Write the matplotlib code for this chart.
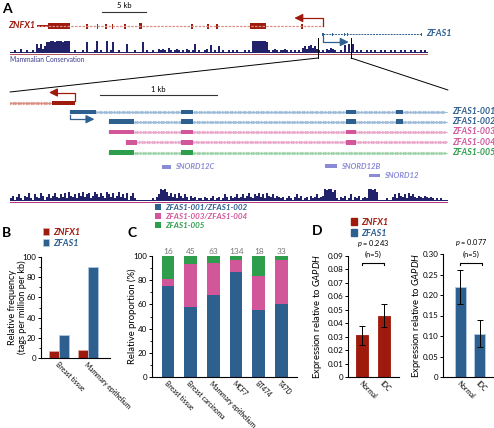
import numpy as np
import matplotlib
matplotlib.use('Agg')
import matplotlib.pyplot as plt
from matplotlib.patches import ConnectionPatch, Patch

plt.rcParams['font.family'] = ['Lato', 'DejaVu Sans']
plt.rcParams['mathtext.fontset'] = 'custom'
plt.rcParams['mathtext.it'] = 'Lato:italic'
plt.rcParams['mathtext.rm'] = 'Lato'

# colours
RED = '#9e1a0c'
RED_L = '#d98f86'
BLUE = '#2d5f8f'
BLUE_L = '#9dbad8'
PINK = '#d1579a'
PINK_L = '#eaa8cb'
GREEN = '#2e9e4c'
GREEN_L = '#9ed3a8'
SNO = '#8a8ad6'
CONS = '#22226a'

# ---- panel A data (kb) ----
znfx1_utr = [(3.07, 4.32)]
znfx1_big_exons = [(4.32, 6.82), (27.27, 29.09)]
znfx1_small_exons = [8.75, 9.89, 10.91, 11.7, 13.07, 14.77, 20.68, 22.5, 23.52, 33.18]
znfx1_span = (3.07, 35.57)
zfas1_span = (35.57, 46.82)
zfas1_small_exons = [35.57, 36.7, 38.0, 38.3, 46.8]
zoom_window = (35.0, 38.75)

# conservation, one digit per 2-px bin (upper: 0.227 kb, lower: 0.017 kb)
cons_upper = ("1121131121121" "747358" "89989998999" "11211121" "8" "1112" "9" "1211" "9"
              "12" "8" "112111" "7" "1112111" "8" "121121132" "3214" "212321213212"
              "7" "1211231" "6" "1215" "1211212121112121" "99999998"
              "21232122321212121" "45356453" "2121324" "32112161717"
              "1212112121211212112121121211212112121")
cons_lower = ("2413521436215326413524632" "53627435264735624753" "642753624735261462"
              "1111111121" "35989746" "35264253142312" "21321241231253142352"
              "35246325463526435243" "2312421352412314235234" "989978"
              "2132412513241232" "99897" "1111211" "3526435264532432432321212111")

znfx1_zoom_intron = (0.0, 0.359)
znfx1_zoom_exon = (0.359, 0.556)
transcript_names = ['ZFAS1-001', 'ZFAS1-002', 'ZFAS1-003', 'ZFAS1-004', 'ZFAS1-005']
transcript_starts = [0.513, 0.846, 0.846, 0.991, 0.846]
transcript_end = 3.735
t001 = [(0.513, 0.735), (1.462, 1.564), (2.872, 2.957), (3.299, 3.359)]
t002 = [(0.846, 1.06), (1.462, 1.564), (2.872, 2.957), (3.299, 3.359)]
t003 = [(0.846, 1.06), (1.462, 1.564), (2.872, 2.957)]
t004 = [(0.991, 1.085), (1.462, 1.564), (2.872, 2.957)]
t005 = [(0.846, 1.06), (1.462, 1.564)]
snord_names = ['SNORD12C', 'SNORD12B', 'SNORD12']
snord_starts = [1.299, 2.692, 3.068]
snord_ends = [1.376, 2.795, 3.162]

# ---- panel B ----
b_categories = ['Breast tissue', 'Mammary epithelium']
b_znfx1 = [7, 7.5]
b_zfas1 = [23, 90]

# ---- panel C ----
c_categories = ['Breast tissue', 'Breast carcinoma', 'Mammary epithelium', 'MCF7', 'BT474', 'T47D']
c_001_002 = [75, 57.5, 68, 86.5, 55.5, 60.5]
c_003_004 = [6, 36, 26, 10, 28, 36.5]
c_005 = [19, 6.5, 6, 3.5, 16.5, 3]
c_counts = [16, 45, 63, 134, 18, 33]

# ---- panel D ----
d_groups = ['Normal', 'IDC']
d_znfx1 = [0.031, 0.0455]
d_znfx1_err = [0.007, 0.0085]
d_zfas1 = [0.22, 0.106]
d_zfas1_err = [0.041, 0.034]
d_pvals = ['0.243', '0.077']

W, H = 494, 428
fig = plt.figure(figsize=(W / 100, H / 100), dpi=100)


def px_axes(l, t, r, b):
    return fig.add_axes([l / W, 1 - b / H, (r - l) / W, (b - t) / H])


def chevron_line(ax, x0, x1, y, color):
    ax.plot([x0, x1], [y, y], color=color, lw=0.6, zorder=1)
    xs = np.arange(x0 + 0.01, x1, 0.022)
    ax.plot(xs, np.full_like(xs, y), ls='none', marker='>', ms=2.2, mew=0.3,
            color=color, zorder=1)


def cons_track(ax, digits, px_per_kb, base, base_col):
    h = np.array([int(c) for c in digits]) * 12 / 9
    x = (np.arange(len(h)) * 2 + 1) / px_per_kb
    ax.plot([0, x[-1]], [base + 0.5, base + 0.5], color=base_col, lw=0.7)
    ax.bar(x, -h, width=1.1 / px_per_kb, bottom=base, color=CONS, lw=0)


def arrow_head(ax, x_tip, x_from, y, color):
    ax.annotate('', xy=(x_tip, y), xytext=(x_from, y),
                arrowprops=dict(arrowstyle='-|>,head_length=0.5,head_width=0.25', color=color, lw=0.9))


# ================= panel A, upper genome view =================
KB1 = 8.8   # px per kb
axA1 = px_axes(10, 0, W, 70)
axA1.set_xlim(0, (W - 10) / KB1)
axA1.set_ylim(70, 0)
axA1.axis('off')

# scale bar 5 kb
axA1.plot([92 / KB1, 92 / KB1 + 5], [12, 12], color='#333333', lw=0.8)
axA1.text(92 / KB1 + 2.5, 9.5, '5 kb', ha='center', va='bottom', fontsize=5.5)

axA1.plot(znfx1_span, [26, 26], color=RED_L, lw=0.9, ls=(0, (2, 1)))
axA1.broken_barh([(s, e - s) for s, e in znfx1_utr], (25, 2), facecolors=RED)
axA1.broken_barh([(s, e - s) for s, e in znfx1_big_exons], (23, 6), facecolors=RED)
axA1.broken_barh([(x - 0.06, 0.12) for x in znfx1_small_exons], (23.5, 5), facecolors=RED)
axA1.broken_barh([(14.67, 0.3)], (23, 6), facecolors=RED)
axA1.text(znfx1_span[0] - 0.2, 26, 'ZNFX1', color=RED, fontsize=6.5, fontweight='bold',
          style='italic', ha='right', va='center')
tss = znfx1_span[1]
axA1.plot([tss, tss, 32.6], [26, 18, 18], color=RED, lw=0.9)
arrow_head(axA1, 32.0, 33.2, 18, RED)

axA1.plot(zfas1_span, [34, 34], color=BLUE, lw=0.7, ls=(0, (2, 1)))
axA1.broken_barh([(x - 0.06, 0.12) for x in zfas1_small_exons], (32.5, 3), facecolors=BLUE)
axA1.text(zfas1_span[1] + 0.5, 34, 'ZFAS1', color=BLUE, fontsize=6.5, fontweight='bold',
          style='italic', ha='left', va='center')
axA1.plot([tss, tss, 38.2], [36, 42, 42], color=BLUE, lw=0.9)
arrow_head(axA1, 38.8, 37.8, 42, BLUE)

cons_track(axA1, cons_upper, KB1, 53, '#b0505a')
axA1.text(0, 60, 'Mammalian Conservation', color='#3a3a8a', fontsize=4.8, va='center', ha='left')

for xz in zoom_window:
    axA1.plot([xz, xz], [38, 58], color='black', lw=0.7)

# ================= panel A, zoomed view =================
KB2 = 117.0
axA2 = px_axes(10, 80, W, 210)
axA2.set_xlim(0, (W - 10) / KB2)
axA2.set_ylim(130, 0)
axA2.axis('off')

axA2.plot([90 / KB2, 90 / KB2 + 1], [15, 15], color='#333333', lw=0.8)
axA2.text(90 / KB2 + 0.5, 12.5, '1 kb', ha='center', va='bottom', fontsize=5.5)

chevron_line(axA2, znfx1_zoom_intron[0], znfx1_zoom_intron[1], 22.7, RED_L)
axA2.broken_barh([(znfx1_zoom_exon[0], znfx1_zoom_exon[1] - znfx1_zoom_exon[0])], (20.5, 4.4),
                 facecolors=RED)
axA2.plot([znfx1_zoom_exon[1]] * 2 + [0.36], [20.5, 12.5, 12.5], color=RED, lw=0.9)
arrow_head(axA2, 0.31, 0.40, 12.5, RED)

rows_y = [32, 41.7, 52, 62.3, 72.7]
exon_sets = [t001, t002, t003, t004, t005]
dark_cols = [BLUE, BLUE, PINK, PINK, GREEN]
light_cols = [BLUE_L, BLUE_L, PINK_L, PINK_L, GREEN_L]
for name, start, exons, y, dc, lc in zip(transcript_names, transcript_starts, exon_sets,
                                         rows_y, dark_cols, light_cols):
    chevron_line(axA2, start, transcript_end, y, lc)
    axA2.broken_barh([(s, e - s) for s, e in exons], (y - 2.3, 4.6), facecolors=dc, zorder=2)
    axA2.text(transcript_end + 0.04, y, name, color=dc, fontsize=6.3, fontweight='bold',
              style='italic', ha='left', va='center')
axA2.plot([t001[0][0]] * 2 + [0.70], [34.5, 39.2, 39.2], color=BLUE, lw=0.9)
arrow_head(axA2, 0.745, 0.66, 39.2, BLUE)

snord_y = [86.7, 86.2, 95.5]
for name, s, e, y in zip(snord_names, snord_starts, snord_ends, snord_y):
    axA2.broken_barh([(s, e - s)], (y - 1.8, 3.6), facecolors=SNO)
    axA2.text(e + 0.035, y, name, color=SNO, fontsize=5.6, fontweight='bold', style='italic',
              ha='left', va='center')

cons_track(axA2, cons_lower, KB2, 121, '#b4307a')

for (xa, ya), (xb, yb) in [((zoom_window[0], 58), (0.0, 12)),
                           ((zoom_window[1], 58), (438 / KB2, 10))]:
    con = ConnectionPatch(xyA=(xa, ya), coordsA=axA1.transData,
                          xyB=(xb, yb), coordsB=axA2.transData, color='black', lw=0.7)
    fig.add_artist(con)


def style_axes(ax):
    for s in ['top', 'right']:
        ax.spines[s].set_visible(False)
    for s in ['left', 'bottom']:
        ax.spines[s].set_linewidth(0.8)
    ax.tick_params(axis='y', direction='out', length=2.5, width=0.7, labelsize=5.8, pad=1)
    ax.tick_params(axis='y', which='minor', length=1.5, width=0.6)
    ax.tick_params(axis='x', length=0, labelsize=4.8, pad=2)


def rot_labels(ax, labels):
    ax.set_xticklabels(labels, rotation=-45, ha='left', va='top', rotation_mode='anchor')


def place_ylabel(ax, right_px, left_px, width_px):
    # put the right edge of the y label at a given pixel column
    ax.yaxis.set_label_coords((right_px - left_px) / width_px, 0.5)


# ================= panel B =================
axB = px_axes(41, 257, 110, 358)
xb = np.arange(len(b_categories))
bw = 0.345
bars_r = axB.bar(xb - bw / 2, b_znfx1, bw, color=RED, edgecolor='#e7a9a0', lw=0.5, label='ZNFX1')
bars_b = axB.bar(xb + bw / 2, b_zfas1, bw, color=BLUE, edgecolor='#b4cde6', lw=0.5, label='ZFAS1')
axB.set_xlim(-0.62, 1.76)
axB.set_ylim(0, 100)
axB.set_yticks(np.arange(0, 101, 20))
axB.set_yticks(np.arange(10, 100, 20), minor=True)
axB.set_xticks(xb)
style_axes(axB)
rot_labels(axB, b_categories)
axB.set_ylabel('Relative frequency\n(tags per million per kb)', fontsize=6.6, linespacing=1.05)
place_ylabel(axB, 27, 41, 69)
legB = fig.legend(handles=[bars_r, bars_b], loc='upper left', bbox_to_anchor=(38 / W, 1 - 223 / H),
                  frameon=False, handlelength=0.7, handleheight=0.7,
                  handletextpad=0.5, labelspacing=0.25, borderpad=0,
                  prop=dict(style='italic', weight='bold', size=6.5))
for t, c in zip(legB.get_texts(), [RED, BLUE]):
    t.set_color(c)

# ================= panel C =================
axC = px_axes(152, 256, 297, 377)
xc = np.arange(len(c_categories))
cw = 0.56
b1 = axC.bar(xc, c_001_002, cw, color=BLUE, label='ZFAS1-001/ZFAS1-002')
b2 = axC.bar(xc, c_003_004, cw, bottom=c_001_002, color=PINK, label='ZFAS1-003/ZFAS1-004')
b3 = axC.bar(xc, c_005, cw, bottom=np.add(c_001_002, c_003_004), color=GREEN, label='ZFAS1-005')
for x, n in zip(xc, c_counts):
    axC.text(x, 100.5, str(n), ha='center', va='bottom', fontsize=6, color='#777777', clip_on=False)
axC.set_xlim(-0.70, 5.68)
axC.set_ylim(0, 100)
axC.set_yticks(np.arange(0, 101, 20))
axC.set_yticks(np.arange(10, 100, 20), minor=True)
axC.set_xticks(xc)
style_axes(axC)
rot_labels(axC, c_categories)
axC.set_ylabel('Relative proportion (%)', fontsize=6.8)
place_ylabel(axC, 137, 152, 145)
legC = fig.legend(handles=[b1, b2, b3], loc='upper left', bbox_to_anchor=(151 / W, 1 - 200 / H),
                  frameon=False, handlelength=0.7, handleheight=0.7, handletextpad=0.6,
                  labelspacing=0.25, borderpad=0,
                  prop=dict(style='italic', weight='bold', size=5.8))
for t, c in zip(legC.get_texts(), [BLUE, PINK, GREEN]):
    t.set_color(c)


# ================= panel D =================
def d_panel(ax, vals, errs, color, edge, ymax, step, pval, ybr, yp, yn, xr):
    xd = np.arange(len(d_groups))
    bars = ax.bar(xd, vals, 0.56, color=color, edgecolor=edge, lw=0.6,
                  yerr=errs, error_kw=dict(ecolor='black', elinewidth=0.7, capsize=2.2, capthick=0.7))
    ax.set_ylim(0, ymax)
    ticks = np.arange(0, ymax + step / 2, step)
    ax.set_yticks(ticks)
    ax.set_yticklabels(['0'] + [f'{t:.2f}' for t in ticks[1:]])
    ax.set_xticks(xd)
    style_axes(ax)
    rot_labels(ax, d_groups)
    ax.set_ylabel('Expression relative to $\\mathit{GAPDH}$', fontsize=6.8)
    d = ymax * 0.02
    ax.plot([0, 0, xr, xr], [ybr - d, ybr, ybr, ybr - d], color='black', lw=0.8, clip_on=False)
    ax.text(xr / 2, yp, f'$\\mathit{{p}}$ = {pval}', ha='center', va='center', fontsize=5.3)
    ax.text(xr / 2, yn, '(n=5)', ha='center', va='center', fontsize=5.3)
    return bars


axD1 = px_axes(348, 256, 399, 377)
barsD1 = d_panel(axD1, d_znfx1, d_znfx1_err, RED, RED, 0.09, 0.01, d_pvals[0],
                 0.0848, 0.0995, 0.0915, 0.98)
axD1.set_xlim(-0.67, 1.7)
place_ylabel(axD1, 324, 348, 51)
axD2 = px_axes(443, 254, 493, 377)
barsD2 = d_panel(axD2, d_zfas1, d_zfas1_err, BLUE, '#b4cde6', 0.30, 0.05, d_pvals[1],
                 0.278, 0.328, 0.30, 1.1)
axD2.set_xlim(-0.875, 1.68)
place_ylabel(axD2, 423, 443, 50)
legD = fig.legend(handles=[Patch(color=RED, label='ZNFX1'), Patch(color=BLUE, label='ZFAS1')],
                  loc='upper left', bbox_to_anchor=(346 / W, 1 - 213 / H), frameon=False,
                  handlelength=0.7, handleheight=0.7, handletextpad=0.5, labelspacing=0.25,
                  borderpad=0, prop=dict(style='italic', weight='bold', size=6.5))
for t, c in zip(legD.get_texts(), [RED, BLUE]):
    t.set_color(c)

# panel letters
for letter, x, y in [('A', 2, 9), ('B', 2, 233), ('C', 127, 233), ('D', 312, 231)]:
    fig.text(x / W, 1 - y / H, letter, fontsize=10, fontweight='bold', ha='left', va='center')

fig.savefig('out.png', dpi=100)
